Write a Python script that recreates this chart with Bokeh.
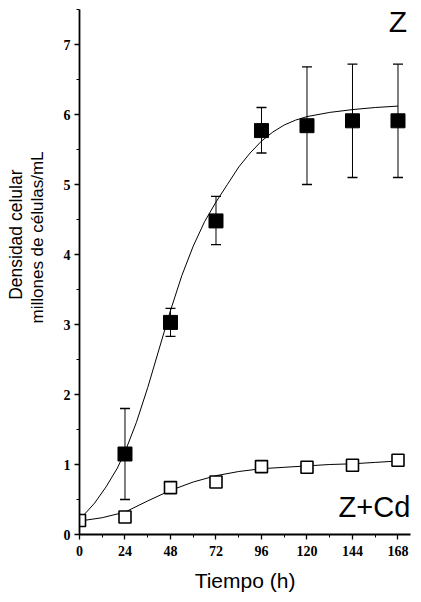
from bokeh.plotting import figure
from bokeh.models import Range1d, FixedTicker, Whisker, ColumnDataSource, Label, Title
from bokeh.embed import file_html
from bokeh.resources import INLINE

# data
t_z = [24, 48, 72, 96, 120, 144, 168]
z_mean = [1.15, 3.03, 4.48, 5.77, 5.84, 5.91, 5.91]
z_low = [0.50, 2.83, 4.14, 5.45, 5.00, 5.10, 5.10]
z_high = [1.80, 3.23, 4.83, 6.10, 6.68, 6.72, 6.72]

t_cd = [0, 24, 48, 72, 96, 120, 144, 168]
cd_mean = [0.20, 0.25, 0.67, 0.75, 0.97, 0.96, 0.99, 1.06]

# fitted curves
fit_z_t = [2, 8, 14, 20, 24, 30, 36, 42, 48, 54, 60, 66, 72, 78, 84, 90, 96, 102, 108, 114, 120, 132, 144, 156, 168]
fit_z_y = [0.27, 0.45, 0.68, 0.95, 1.18, 1.6, 2.1, 2.65, 3.2, 3.7, 4.12, 4.47, 4.75, 5.0, 5.25, 5.45, 5.62, 5.75, 5.85, 5.92, 5.97, 6.03, 6.07, 6.1, 6.12]
fit_cd_t = [2, 12, 24, 36, 48, 60, 72, 84, 96, 108, 120, 132, 144, 156, 168]
fit_cd_y = [0.20, 0.24, 0.32, 0.48, 0.63, 0.75, 0.84, 0.90, 0.94, 0.96, 0.98, 1.00, 1.01, 1.03, 1.05]

x_ticks = [0, 24, 48, 72, 96, 120, 144, 168]
y_ticks = [0, 1, 2, 3, 4, 5, 6, 7]

p = figure(width=413, height=594, output_backend="svg", toolbar_location=None,
           x_range=Range1d(0, 174.6), y_range=Range1d(0, 7.5),
           min_border_left=79, min_border_right=3, min_border_top=9, min_border_bottom=60)
p.outline_line_color = None
p.grid.visible = False
p.background_fill_color = "white"

p.xaxis.ticker = FixedTicker(ticks=x_ticks, minor_ticks=[12, 36, 60, 84, 108, 132, 156])
p.yaxis.ticker = FixedTicker(ticks=y_ticks, minor_ticks=[0.5, 1.5, 2.5, 3.5, 4.5, 5.5, 6.5, 7.5])
for ax in (p.xaxis[0], p.yaxis[0]):
    ax.axis_line_width = 1.8
    ax.axis_line_color = "black"
    ax.major_tick_out = 5
    ax.major_tick_in = 0
    ax.minor_tick_out = 3
    ax.minor_tick_in = 0
    ax.major_tick_line_width = 1.3
    ax.major_tick_line_color = "black"
    ax.minor_tick_line_color = "black"
    ax.major_label_text_font = "Liberation Sans Narrow"
    ax.major_label_text_font_style = "bold"
    ax.major_label_text_font_size = "14px"
    ax.major_label_text_color = "black"
p.xaxis.major_label_standoff = 6
p.yaxis.major_label_standoff = 4
p.xaxis.axis_label = "Tiempo (h)"
p.xaxis.axis_label_text_font = "Liberation Sans"
p.xaxis.axis_label_text_font_style = "normal"
p.xaxis.axis_label_text_font_size = "21px"
p.xaxis.axis_label_text_color = "black"
p.xaxis.axis_label_standoff = 10

# spacer between y tick labels and the two-line y title
p.yaxis.axis_label = " "
p.yaxis.axis_label_text_font_size = "1px"
p.yaxis.axis_label_standoff = 10

# y-axis title, two lines, placed in the left panel
t2 = Title(text="millones de células/mL", align="right", offset=142, standoff=0,
           text_font="Liberation Sans", text_font_style="normal", text_font_size="17px",
           text_color="black")
t1 = Title(text="Densidad celular", align="right", offset=160, standoff=0,
           text_font="Liberation Sans", text_font_style="normal", text_font_size="17.5px",
           text_color="black")
p.add_layout(t2, "left")
p.add_layout(t1, "left")

# curves
p.line(fit_z_t, fit_z_y, line_color="black", line_width=1)
p.line(fit_cd_t, fit_cd_y, line_color="black", line_width=1)

# error bars
src = ColumnDataSource(dict(t=t_z, lo=z_low, hi=z_high, m=z_mean))
w = Whisker(base="t", lower="lo", upper="hi", source=src, line_color="black", line_width=1)
w.upper_head.size = 10
w.lower_head.size = 10
w.upper_head.line_width = 1.3
w.lower_head.line_width = 1.3
p.add_layout(w)

p.scatter("t", "m", source=src, marker="square", size=14, fill_color="black", line_color="black")
p.scatter(t_cd, cd_mean, marker="square", size=12, fill_color="white", line_color="black", line_width=1.6)

# texts
p.add_layout(Label(x=168, y=7.33, text="Z", text_font="Liberation Sans", text_font_size="30px",
                   text_align="center", text_baseline="middle", text_color="black"))
p.add_layout(Label(x=155.6, y=0.4, text="Z+Cd", text_font="Liberation Sans", text_font_size="29px",
                   text_align="center", text_baseline="middle", text_color="black"))

open("out.html", "w").write(file_html(p, INLINE))
